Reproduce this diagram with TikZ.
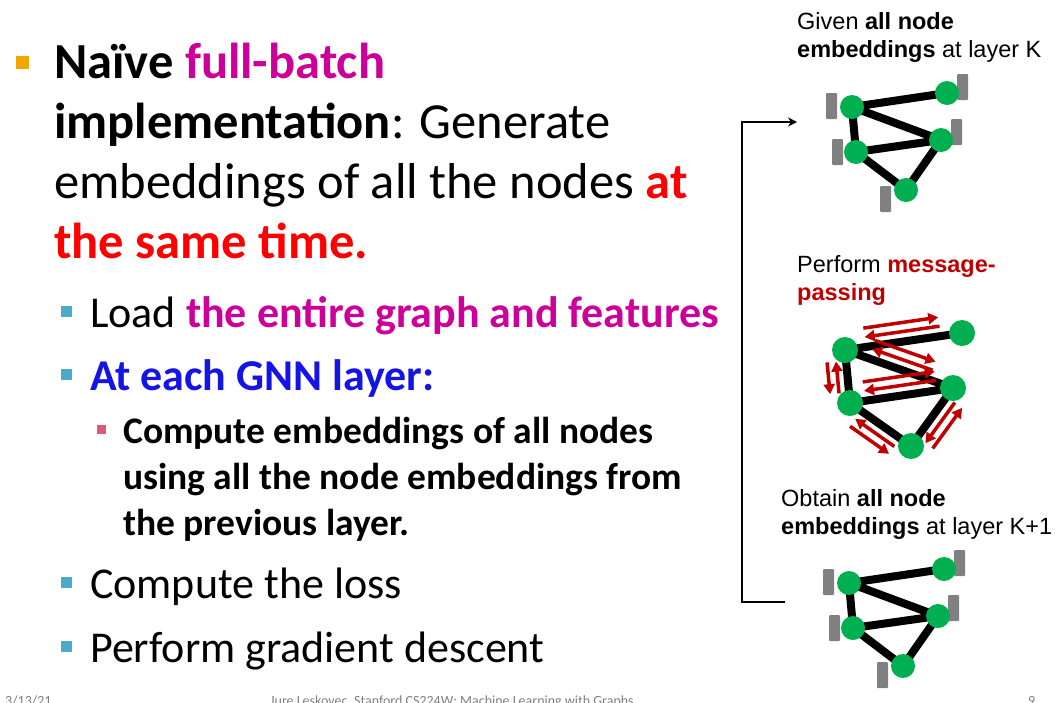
\documentclass[tikz,border=0pt]{standalone}
\usepackage{fontspec}
\setmainfont{Carlito}
\newfontfamily\arial{Liberation Sans}
\usetikzlibrary{calc,arrows.meta}
\definecolor{mag}{RGB}{204,0,153}
\definecolor{bblue}{RGB}{20,20,230}
\definecolor{dred}{RGB}{192,0,0}
\definecolor{gn}{RGB}{0,176,80}
\definecolor{bar}{RGB}{128,128,128}
\definecolor{teal}{RGB}{75,172,198}
\definecolor{org}{RGB}{240,168,0}
\definecolor{pink}{RGB}{220,90,120}
\tikzset{
 t1/.style={anchor=base west,inner sep=0,font=\fontsize{50.5}{50}\selectfont},
 t2/.style={anchor=base west,inner sep=0,font=\fontsize{44}{44}\selectfont},
 t3/.style={anchor=base west,inner sep=0,font=\fontsize{37.5}{37}\selectfont\bfseries},
 lab/.style={anchor=base west,inner sep=0,font=\arial\fontsize{23.5}{23}\selectfont},
 foot/.style={anchor=base west,inner sep=0,font=\fontsize{14}{14}\selectfont,gray},
 gnode/.style={circle,fill=gn,minimum size=24pt,inner sep=0},
 edge/.style={line width=8pt},
 gbar/.style={fill=bar,rounded corners=1pt},
 rarr/.style={draw=dred,line width=3.5pt,-{Triangle[length=10pt,width=11pt]}},
}
% from, to, angle, fraction
\newcommand\msg[4]{%
 \coordinate (ms) at ($(#1)!#4!(#2)$);
 \coordinate (mt) at ($(#2)!#4!(#1)$);
 \draw[rarr] ($(ms)!19pt!#3:(mt)$) -- ($(mt)!19pt!-#3:(ms)$);
 \draw[rarr] ($(mt)!10pt!-#3:(ms)$) -- ($(ms)!10pt!#3:(mt)$);
}
\begin{document}
\begin{tikzpicture}[x=1pt,y=-1pt]
\useasboundingbox (0,0) rectangle (1058,702);
% left text
\fill[org] (16,56) rectangle (29,69);
\node[t1,font=\fontsize{50.5}{50}\selectfont\bfseries] (l1) at (54,78) {Naïve \textcolor{mag}{full-batch}};
\node[t1] (l2) at (54,138) {\textbf{implementation}: Generate};
\node[t1] (l3) at (54,198) {embeddings of all the nodes \textcolor{red}{\textbf{at}}};
\node[t1] (l4) at (54,258) {\textcolor{red}{\textbf{the same time.}}};
\foreach \y in {306,369,577,641} \fill[teal] (61,\y) rectangle (72,\y+11);
\node[t2] (s1) at (90,327) {Load \textcolor{mag}{\textbf{the entire graph and features}}};
\node[t2] (s2) at (90,390) {\textcolor{bblue}{\textbf{At each GNN layer:}}};
\fill[pink] (97,425) rectangle (106,434);
\node[t3] (c1) at (123,443) {Compute embeddings of all nodes};
\node[t3] (c2) at (123,489) {using all the node embeddings from};
\node[t3] (c3) at (123,535) {the previous layer.};
\node[t2] (s3) at (90,598) {Compute the loss};
\node[t2] (s4) at (90,662) {Perform gradient descent};
% footer
\node[foot] (f1) at (5,705) {3/13/21};
\node[foot] (f2) at (270,705) {Jure Leskovec, Stanford CS224W: Machine Learning with Graphs};
\node[foot] (f3) at (1028,705) {9};
% labels
\node[lab] (g1) at (797,29) {Given \textbf{all node}};
\node[lab] (g2) at (797,57) {\textbf{embeddings} at layer K};
\node[lab] (p1) at (797,272) {Perform \textcolor{dred}{\textbf{message-}}};
\node[lab] (p2) at (797,300) {\textcolor{dred}{\textbf{passing}}};
\node[lab] (o1) at (781,506) {Obtain \textbf{all node}};
\node[lab] (o2) at (781,534) {\textbf{embeddings} at layer K+1};
% loop arrow
\coordinate (lb) at (785,602);
\coordinate (lt) at (797,122);
\draw[line width=2pt,-{Stealth[length=9pt,width=9pt]}] (lb) -- (742,602) -- (742,122) -- (lt);
% graph 1 and 3
\foreach \dx/\dy/\n in {0/0/a,-3/476/c}{
 \begin{scope}[shift={(\dx,\dy)}]
 \fill[gbar] (826,93) rectangle (837,119);
 \fill[gbar] (957,74) rectangle (968,100);
 \fill[gbar] (951,119) rectangle (962,145);
 \fill[gbar] (832,139) rectangle (843,165);
 \fill[gbar] (880,186) rectangle (891,212);
 \coordinate (\n A) at (852,107);
 \coordinate (\n B) at (947,93);
 \coordinate (\n C) at (941,140);
 \coordinate (\n D) at (856,152);
 \coordinate (\n E) at (906,190);
 \draw[edge] (\n A)--(\n B) (\n A)--(\n C) (\n A)--(\n D) (\n D)--(\n C) (\n D)--(\n E) (\n E)--(\n C);
 \foreach \m in {A,B,C,D,E} \node[gnode] (\n\m n) at (\n\m) {};
 \end{scope}}
% graph 2
\coordinate (bA) at (845,350);
\coordinate (bB) at (962,333);
\coordinate (bC) at (953,388);
\coordinate (bD) at (850,403);
\coordinate (bE) at (911,446);
\draw[edge] (bA)--(bB) (bA)--(bC) (bA)--(bD) (bD)--(bC) (bD)--(bE) (bE)--(bC);
\msg{bA}{bB}{90}{0.18}
\msg{bA}{bC}{90}{0.22}
\msg{bD}{bC}{90}{0.15}
\msg{bA}{bD}{-90}{0.2}
\msg{bD}{bE}{-90}{0.18}
\msg{bE}{bC}{-90}{0.15}
\foreach \m in {A,B,C,D,E} \node[gnode,minimum size=26pt] (b\m n) at (b\m) {};
\end{tikzpicture}
\end{document}
